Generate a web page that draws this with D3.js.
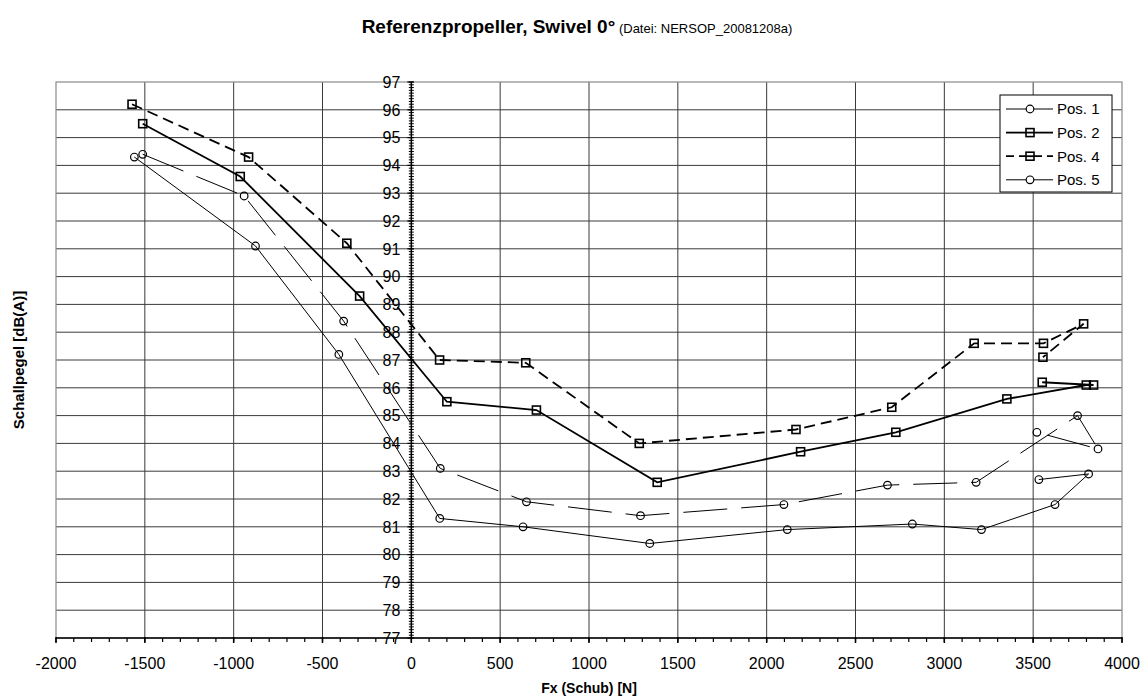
<!DOCTYPE html>
<html>
<head>
<meta charset="utf-8">
<script src="https://cdn.jsdelivr.net/npm/d3@7"></script>
<style>
  body { margin: 0; background: #fff; }
  text { font-family: "Liberation Sans", Arial, sans-serif; fill: #000; }
</style>
</head>
<body>
<div id="chart"></div>
<script>
const pos1X = [-1559, -877, -408, 160, 629, 1342, 2116, 2820, 3209, 3623, 3812, 3532];
const pos1Y = [94.3, 91.1, 87.2, 81.3, 81.0, 80.4, 80.9, 81.1, 80.9, 81.8, 82.9, 82.7];
const pos2X = [-1512, -963, -291, 200, 704, 1384, 2191, 2727, 3352, 3799, 3840, 3551];
const pos2Y = [95.5, 93.6, 89.3, 85.5, 85.2, 82.6, 83.7, 84.4, 85.6, 86.1, 86.1, 86.2];
const pos4X = [-1572, -916, -363, 159, 644, 1283, 2165, 2704, 3168, 3558, 3784, 3555];
const pos4Y = [96.2, 94.3, 91.2, 87.0, 86.9, 84.0, 84.5, 85.3, 87.6, 87.6, 88.3, 87.1];
const pos5X = [-1512, -941, -381, 163, 648, 1290, 2097, 2680, 3179, 3750, 3865, 3521];
const pos5Y = [94.4, 92.9, 88.4, 83.1, 81.9, 81.4, 81.8, 82.5, 82.6, 85.0, 83.8, 84.4];

const xTicks = [-2000, -1500, -1000, -500, 0, 500, 1000, 1500, 2000, 2500, 3000, 3500, 4000];
const yTicks = d3.range(77, 98);

const series = [
    { name: 'Pos. 1', xs: pos1X, ys: pos1Y, marker: 'circle', width: 1, dash: null },
    { name: 'Pos. 2', xs: pos2X, ys: pos2Y, marker: 'square', width: 1.8, dash: null },
    { name: 'Pos. 4', xs: pos4X, ys: pos4Y, marker: 'square', width: 1.8, dash: '11,6' },
    { name: 'Pos. 5', xs: pos5X, ys: pos5Y, marker: 'circle', width: 1, dash: '44,14' }
];

const W = 1144, H = 699;
const margin = { top: 82, right: 22, bottom: 61, left: 56 };
const width = W - margin.left - margin.right;
const height = H - margin.top - margin.bottom;

const svg = d3.select('#chart').append('svg')
    .attr('width', W)
    .attr('height', H);

// Titel
const title = svg.append('text')
    .attr('x', 577)
    .attr('y', 33)
    .attr('text-anchor', 'middle');
title.append('tspan').style('font-weight', 'bold').style('font-size', '19px').text('Referenzpropeller, Swivel 0°');
title.append('tspan').style('font-size', '13px').text(' (Datei: NERSOP_20081208a)');

const g = svg.append('g').attr('transform', `translate(${margin.left},${margin.top})`);

const x = d3.scaleLinear().domain([-2000, 4000]).range([0, width]);
const y = d3.scaleLinear().domain([77, 97]).range([height, 0]);

// Gitter
g.append('g').selectAll('line')
    .data(yTicks.filter(d => d > 77 && d < 97)).enter()
    .append('line')
    .attr('x1', 0).attr('x2', width)
    .attr('y1', d => y(d)).attr('y2', d => y(d))
    .attr('stroke', '#3a3a3a').attr('stroke-width', 1);

g.append('g').selectAll('line')
    .data(xTicks.filter(d => d > -2000 && d < 4000 && d !== 0)).enter()
    .append('line')
    .attr('y1', 0).attr('y2', height)
    .attr('x1', d => x(d)).attr('x2', d => x(d))
    .attr('stroke', '#3a3a3a').attr('stroke-width', 1);

// Rahmen
g.append('rect')
    .attr('width', width).attr('height', height)
    .attr('fill', 'none').attr('stroke', '#8a8a8a').attr('stroke-width', 1.2);

// y-Achse bei x = 0
const yAxis = g.append('g').attr('transform', `translate(${x(0)},0)`);
yAxis.append('line').attr('y1', 0).attr('y2', height).attr('stroke', '#000').attr('stroke-width', 1.5);
yAxis.selectAll('.minor')
    .data(d3.range(770, 971).map(d => d / 10)).enter()
    .append('line')
    .attr('x1', -2.5).attr('x2', 2.5)
    .attr('y1', d => y(d)).attr('y2', d => y(d))
    .attr('stroke', '#000').attr('stroke-width', 1);
yAxis.selectAll('.major')
    .data(yTicks).enter()
    .append('line')
    .attr('x1', -4).attr('x2', 2.5)
    .attr('y1', d => y(d)).attr('y2', d => y(d))
    .attr('stroke', '#000').attr('stroke-width', 1.2);
yAxis.selectAll('text')
    .data(yTicks).enter()
    .append('text')
    .attr('x', -11)
    .attr('y', d => y(d))
    .attr('dy', '0.36em')
    .attr('text-anchor', 'end')
    .style('font-size', '16px')
    .text(d => d);

// x-Achse unten
const xAxis = g.append('g').attr('transform', `translate(0,${height})`);
xAxis.append('line').attr('x1', 0).attr('x2', width).attr('stroke', '#000').attr('stroke-width', 1.5);
xAxis.selectAll('.minor')
    .data(d3.range(-2000, 4001, 100)).enter()
    .append('line')
    .attr('x1', d => x(d)).attr('x2', d => x(d))
    .attr('y1', 0).attr('y2', 4)
    .attr('stroke', '#000').attr('stroke-width', 1.2);
xAxis.selectAll('.major')
    .data(xTicks).enter()
    .append('line')
    .attr('x1', d => x(d)).attr('x2', d => x(d))
    .attr('y1', -1).attr('y2', 5)
    .attr('stroke', '#000').attr('stroke-width', 1.5);
xAxis.selectAll('text')
    .data(xTicks).enter()
    .append('text')
    .attr('x', d => x(d))
    .attr('y', 25)
    .attr('dy', '0.36em')
    .attr('text-anchor', 'middle')
    .style('font-size', '16px')
    .text(d => d);

// Achsentitel
svg.append('text')
    .attr('x', margin.left + width / 2)
    .attr('y', 693)
    .attr('text-anchor', 'middle')
    .style('font-size', '14px').style('font-weight', 'bold')
    .text('Fx (Schub) [N]');

svg.append('text')
    .attr('transform', `translate(24,${margin.top + height / 2}) rotate(-90)`)
    .attr('text-anchor', 'middle')
    .style('font-size', '15px').style('font-weight', 'bold')
    .text('Schallpegel [dB(A)]');

// Kurven
const line = d3.line().x(d => x(d[0])).y(d => y(d[1]));

function drawMarker(sel, type, cx, cy) {
    if (type === 'circle') {
        sel.append('circle')
            .attr('cx', cx).attr('cy', cy).attr('r', 3.8)
            .attr('fill', 'none').attr('stroke', '#000').attr('stroke-width', 1.2);
    } else {
        sel.append('rect')
            .attr('x', cx - 4).attr('y', cy - 4)
            .attr('width', 8).attr('height', 8)
            .attr('fill', 'none').attr('stroke', '#000').attr('stroke-width', 1.6);
    }
}

series.forEach(s => {
    const pts = s.xs.map((v, i) => [v, s.ys[i]]);
    g.append('path')
        .datum(pts)
        .attr('d', line)
        .attr('fill', 'none')
        .attr('stroke', '#000')
        .attr('stroke-width', s.width)
        .attr('stroke-dasharray', s.dash);
    const mg = g.append('g');
    pts.forEach(p => drawMarker(mg, s.marker, x(p[0]), y(p[1])));
});

// Legende
const legend = svg.append('g');
legend.append('rect')
    .attr('x', 1000).attr('y', 95)
    .attr('width', 112).attr('height', 97)
    .attr('fill', '#fff').attr('stroke', '#000').attr('stroke-width', 1);

series.forEach((s, i) => {
    const ly = 109 + i * 23.6;
    const legDash = s.dash && s.width > 1.5 ? '8,5' : null;
    legend.append('line')
        .attr('x1', 1006).attr('x2', 1026)
        .attr('y1', ly).attr('y2', ly)
        .attr('stroke', '#000').attr('stroke-width', s.width)
        .attr('stroke-dasharray', legDash);
    legend.append('line')
        .attr('x1', 1034).attr('x2', 1053)
        .attr('y1', ly).attr('y2', ly)
        .attr('stroke', '#000').attr('stroke-width', s.width)
        .attr('stroke-dasharray', legDash);
    if (s.marker === 'square') {
        legend.append('line')
            .attr('x1', 1026).attr('x2', 1034)
            .attr('y1', ly).attr('y2', ly)
            .attr('stroke', '#000').attr('stroke-width', s.width);
    }
    drawMarker(legend, s.marker, 1030, ly);
    legend.append('text')
        .attr('x', 1057)
        .attr('y', ly)
        .attr('dy', '0.36em')
        .style('font-size', '15px')
        .text(s.name);
});
</script>
</body>
</html>
